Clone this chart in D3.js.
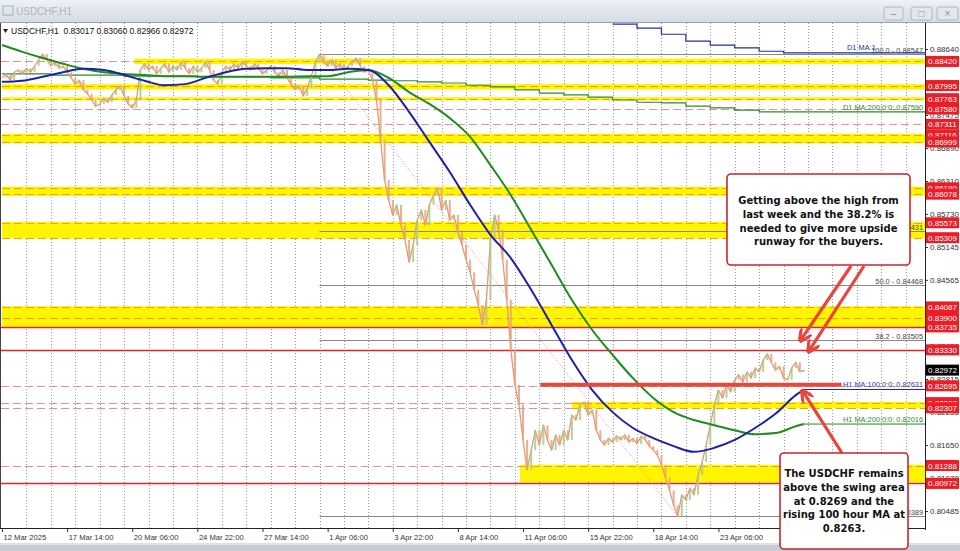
<!DOCTYPE html>
<html><head><meta charset="utf-8">
<script src="https://cdn.jsdelivr.net/npm/d3@7"></script>
<style>body{margin:0;background:#fff;overflow:hidden}svg{display:block;font-family:"Liberation Sans",Arial,sans-serif}</style>
</head><body><svg id="c" width="960" height="551"></svg>
<script>
// ---------------- data ----------------
const windowTitle = "USDCHF,H1";
const headerText = "USDCHF,H1  0.83017 0.83060 0.82966 0.82972";
const timeTickBars = [0,64,128,192,256,320,384,448,512,576,640,704];
const timeLabels = ["12 Mar 2025","17 Mar 14:00","20 Mar 06:00","24 Mar 22:00","27 Mar 14:00","1 Apr 06:00","3 Apr 22:00","8 Apr 14:00","11 Apr 06:00","15 Apr 22:00","18 Apr 14:00","23 Apr 06:00"];
const priceTicks = [0.88640,0.88060,0.87475,0.86890,0.86310,0.85730,0.85145,0.84565,0.83985,0.83400,0.82815,0.82235,0.81650,0.81070,0.80485];
const closeStep = 4; // one value every 4 hourly bars
const closes = [
0.8813,0.8820,0.8809,0.8823,0.8827,0.8820,0.8830,0.8823,0.8834,0.8845,
0.8855,0.8845,0.8834,0.8841,0.8830,0.8834,0.8823,0.8813,0.8802,0.8809,
0.8792,0.8785,0.8774,0.8763,0.8767,0.8777,0.8770,0.8783,0.8792,0.8799,
0.8781,0.8767,0.8760,0.8774,0.8827,0.8838,0.8827,0.8834,0.8820,0.8830,
0.8838,0.8823,0.8834,0.8827,0.8841,0.8830,0.8820,0.8834,0.8823,0.8830,
0.8841,0.8827,0.8809,0.8802,0.8823,0.8834,0.8827,0.8838,0.8830,0.8841,
0.8834,0.8827,0.8838,0.8830,0.8820,0.8827,0.8834,0.8823,0.8816,0.8827,
0.8813,0.8802,0.8792,0.8799,0.8781,0.8795,0.8816,0.8841,0.8855,0.8841,
0.8834,0.8845,0.8830,0.8838,0.8827,0.8834,0.8841,0.8848,0.8834,0.8823,
0.8827,0.8809,0.8774,0.8703,0.8633,0.8597,0.8571,0.8589,0.8553,0.8527,
0.8488,0.8518,0.8562,0.8580,0.8553,0.8589,0.8606,0.8619,0.8580,0.8597,
0.8562,0.8571,0.8541,0.8518,0.8492,0.8470,0.8439,0.8412,0.8377,0.8421,
0.8527,0.8571,0.8545,0.8492,0.8421,0.8333,0.8271,0.8236,0.8174,0.8121,
0.8156,0.8191,0.8165,0.8200,0.8174,0.8156,0.8183,0.8165,0.8191,0.8174,
0.8218,0.8209,0.8236,0.8241,0.8218,0.8227,0.8191,0.8174,0.8165,0.8177,
0.8170,0.8181,0.8174,0.8183,0.8170,0.8177,0.8167,0.8181,0.8174,0.8163,
0.8156,0.8147,0.8130,0.8107,0.8085,0.8059,0.8039,0.8077,0.8068,0.8089,
0.8077,0.8112,0.8135,0.8165,0.8200,0.8236,0.8262,0.8248,0.8271,0.8259,
0.8280,0.8289,0.8276,0.8294,0.8283,0.8301,0.8294,0.8315,0.8326,0.8311,
0.8297,0.8304,0.8283,0.8280,0.8301,0.8311,0.8294,0.8297];
const h1MaBars = [0,20,40,60,80,100,120,140,160,180,200,220,240,260,280,300,320,340,360,380,400,420,440,460,480,500,520,540,560,580,600,620,640,660,680,700,720,740,760,780,788];
const h1Ma100 = [0.8806,0.8808,0.8815,0.8823,0.8829,0.8827,0.8818,0.8808,0.8800,0.8802,0.8813,0.8823,0.8829,0.8830,0.8830,0.8827,0.8827,0.8829,0.8827,0.8800,0.8753,0.8700,0.8647,0.8589,0.8536,0.8495,0.8439,0.8377,0.8315,0.8262,0.8223,0.8195,0.8177,0.8163,0.8153,0.8160,0.8174,0.8195,0.8220,0.8253,0.8263];
const h1Ma200 = [0.8871,0.8859,0.8848,0.8838,0.8829,0.8823,0.8820,0.8818,0.8816,0.8816,0.8815,0.8815,0.8815,0.8815,0.8815,0.8816,0.8816,0.8823,0.8827,0.8813,0.8788,0.8767,0.8742,0.8709,0.8659,0.8606,0.8545,0.8483,0.8421,0.8368,0.8324,0.8283,0.8248,0.8223,0.8209,0.8200,0.8191,0.8184,0.8186,0.8198,0.8202];
const d1Ma200Bars = [0,24,48,72,96,120,144,168,192,216,240,264,288,312,336,360,384,408,432,456,480,504,528,552,576,600,624,648,672,696,720,744,768];
const d1Ma200 = [0.8820,0.8820,0.8818,0.8818,0.8818,0.8816,0.8816,0.8816,0.8815,0.8815,0.8815,0.8813,0.8813,0.8811,0.8811,0.8809,0.8808,0.8806,0.8804,0.8800,0.8797,0.8792,0.8786,0.8783,0.8779,0.8774,0.8770,0.8769,0.8763,0.8760,0.8756,0.8753,0.8753];
const d1Ma100Bars = [600,624,648,672,696,720,744,768];
const d1Ma100 = [0.8908,0.8901,0.8890,0.8878,0.8871,0.8866,0.8860,0.8857];
const levelPrices = [0.88420,0.87995,0.87763,0.87580,0.87311,0.87116,0.86999,0.86190,0.86078,0.85573,0.85309,0.84087,0.83900,0.83735,0.83330,0.82695,0.82398,0.82307,0.81288,0.80972];
const solidLevels = [0.83735,0.83330,0.80972];
const bandHi =   [0.88470,0.88020,0.87790,0.87145,0.86210,0.85590,0.84100,0.82410,0.81300];
const bandLo =   [0.88375,0.87925,0.87735,0.86975,0.86045,0.85300,0.83735,0.82300,0.80990];
const bandFrom = [130,0,0,0,0,0,0,560,509];
const fibLevels = ["100.0","61.8","50.0","38.2","0.0"];
const fibPrices = [0.88547,0.85431,0.84468,0.83505,0.80389];
const fibStartBar = 312, fibEndBar = 664;
const lastPrice = 0.82972;
const swingLevel = 0.82695, swingFrom = 529, swingTo = 825;
const note1 = ["Getting above the high from","last week and the 38.2% is","needed to give more upside","runway for the buyers."];
const note2 = ["The USDCHF remains","above the swing area","at 0.8269 and the","rising 100 hour MA at","0.8263."];

// ---------------- layout ----------------
const svg = d3.select("#c");
const P = {l:1, r:925, t:23, b:528};
const x = d3.scaleLinear().domain([0,907]).range([2,925]);
const y = d3.scaleLinear().domain([0.80485,0.88640]).range([511,49]);
const RIGHT = x(907);
const defs = svg.append("defs");

svg.append("rect").attr("width",960).attr("height",551).attr("fill","#fff");
defs.append("clipPath").attr("id","pc").append("rect")
  .attr("x",P.l).attr("y",P.t).attr("width",P.r-P.l).attr("height",P.b-P.t);
const g = svg.append("g").attr("clip-path","url(#pc)");

// vertical grid (every 24 bars)
g.selectAll("line.vg").data(d3.range(24,907,24)).join("line")
  .attr("x1",d=>Math.round(x(d))+0.5).attr("x2",d=>Math.round(x(d))+0.5)
  .attr("y1",P.t).attr("y2",P.b).attr("stroke","#9a9a9a").attr("stroke-dasharray","1,2");

// yellow bands
const bands = bandHi.map((h,i)=>({hi:h,lo:bandLo[i],from:bandFrom[i]}));
g.selectAll("rect.band").data(bands).join("rect")
  .attr("x",d=>x(d.from)).attr("width",d=>RIGHT-x(d.from))
  .attr("y",d=>y(d.hi)).attr("height",d=>y(d.lo)-y(d.hi)).attr("fill","#fff500");

// level lines
levelPrices.forEach(p=>{
  const yy = Math.round(y(p))+0.5;
  if (solidLevels.includes(p)) {
    g.append("line").attr("x1",P.l).attr("x2",RIGHT).attr("y1",yy).attr("y2",yy)
      .attr("stroke","#e0262b").attr("stroke-width",1.6);
    return;
  }
  const b = bands.find(b=>p<=b.hi+0.00002 && p>=b.lo-0.00002);
  const splitX = b ? x(b.from) : RIGHT;
  if (splitX > P.l+1) g.append("line").attr("x1",P.l).attr("x2",splitX).attr("y1",yy).attr("y2",yy)
      .attr("stroke","#e79090").attr("stroke-dasharray","8,4");
  if (b) g.append("line").attr("x1",splitX).attr("x2",RIGHT).attr("y1",yy).attr("y2",yy)
      .attr("stroke","#f0a020").attr("stroke-dasharray","8,4");
});

// fibonacci levels
fibPrices.forEach((p,i)=>{
  const yy = Math.round(y(p))+0.5;
  g.append("line").attr("x1",x(fibStartBar)).attr("x2",RIGHT).attr("y1",yy).attr("y2",yy)
    .attr("stroke","#8a8a8a").attr("stroke-width",1);
  g.append("text").attr("x",923).attr("y",yy-2).attr("text-anchor","end")
    .attr("font-size",7.4).attr("fill","#444").text(fibLevels[i]+" - "+p.toFixed(5));
});
g.append("line").attr("x1",x(fibStartBar)).attr("y1",y(fibPrices[0]))
  .attr("x2",x(fibEndBar)).attr("y2",y(fibPrices[4]))
  .attr("stroke","#e08a8a").attr("stroke-dasharray","1,2");

// D1 moving averages (stepped)
const stepLine = d3.line().x(d=>x(d[0])).y(d=>y(d[1])).curve(d3.curveStepAfter);
const d1a = d1Ma200Bars.map((b,i)=>[b,d1Ma200[i]]); d1a.push([907,d1Ma200[d1Ma200.length-1]]);
const d1b = d1Ma100Bars.map((b,i)=>[b,d1Ma100[i]]); d1b.push([907,d1Ma100[d1Ma100.length-1]]);
g.append("path").attr("d",stepLine(d1a)).attr("fill","none").attr("stroke","#2e8b2e").attr("stroke-width",1.2);
g.append("path").attr("d",stepLine(d1b)).attr("fill","none").attr("stroke","#2030a0").attr("stroke-width",1.2);

// price: line through closes plus small bodies from previous close (up = green, down = salmon)
const priceLine = d3.line().x((d,i)=>x(i*closeStep)).y(d=>y(d));
g.append("path").attr("d",priceLine(closes)).attr("fill","none")
  .attr("stroke","#e09a74").attr("stroke-width",1.3).attr("stroke-linejoin","round");
g.selectAll("rect.body").data(closes.slice(1)).join("rect")
  .attr("x",(d,i)=>x((i+1)*closeStep)-1)
  .attr("width",2)
  .attr("y",(d,i)=>y(Math.max(d,closes[i])))
  .attr("height",(d,i)=>Math.max(1,Math.abs(y(d)-y(closes[i]))))
  .attr("fill",(d,i)=>d>=closes[i]?"#a9c98f":"#e8a07a").attr("opacity",0.85);

// H1 moving averages
const maLine = d3.line().x(d=>x(d[0])).y(d=>y(d[1])).curve(d3.curveMonotoneX);
const m100 = h1MaBars.map((b,i)=>[b,h1Ma100[i]]);
const m200 = h1MaBars.map((b,i)=>[b,h1Ma200[i]]);
g.append("path").attr("d",maLine(m200)).attr("fill","none").attr("stroke","#1e8c1e").attr("stroke-width",2);
g.append("path").attr("d",maLine(m100)).attr("fill","none").attr("stroke","#1c22a8").attr("stroke-width",2);
const lastBar = h1MaBars[h1MaBars.length-1];
g.append("line").attr("x1",x(lastBar)).attr("x2",RIGHT).attr("y1",y(h1Ma100[h1Ma100.length-1])).attr("y2",y(h1Ma100[h1Ma100.length-1])).attr("stroke","#1c22a8");
g.append("line").attr("x1",x(lastBar)).attr("x2",RIGHT).attr("y1",y(h1Ma200[h1Ma200.length-1])).attr("y2",y(h1Ma200[h1Ma200.length-1])).attr("stroke","#1e8c1e");

// MA labels
const maLbl = (txt,xx,yy,col,anchor)=>g.append("text").attr("x",xx).attr("y",yy).attr("text-anchor",anchor)
  .attr("font-size",7.4).attr("fill",col).text(txt);
maLbl("D1 MA:1",847,y(d1Ma100[d1Ma100.length-1])-3,"#2030a0","start");
maLbl("D1 MA:200:0:0: 0.87590",923,y(d1Ma200[d1Ma200.length-1])-2,"#2e8b2e","end");
maLbl("H1 MA:100:0:0: 0.82631",923,y(h1Ma100[h1Ma100.length-1])-2,"#3a3ab0","end");
maLbl("H1 MA:200:0:0: 0.82016",923,y(h1Ma200[h1Ma200.length-1])-2,"#2e8b2e","end");

// swing line
g.append("line").attr("x1",x(swingFrom)).attr("x2",x(swingTo)).attr("y1",y(swingLevel)-1).attr("y2",y(swingLevel)-1)
  .attr("stroke","#e8483c").attr("stroke-width",4);

// ---------------- axes ----------------
const yAxis = svg.append("g").attr("transform",`translate(${P.r},0)`)
  .call(d3.axisRight(y).tickValues(priceTicks).tickFormat(d3.format(".5f")).tickSize(3).tickPadding(2));
yAxis.select(".domain").remove();
yAxis.selectAll("text").attr("font-size",8).attr("fill","#333").attr("font-family","Liberation Sans, Arial, sans-serif");
yAxis.selectAll("line").attr("stroke","#333");
svg.append("line").attr("x1",P.r+0.5).attr("x2",P.r+0.5).attr("y1",P.t).attr("y2",P.b+2).attr("stroke","#222");

const xAxis = svg.append("g").attr("transform",`translate(0,${P.b})`)
  .call(d3.axisBottom(x).tickValues(timeTickBars).tickFormat((d,i)=>timeLabels[i]).tickSize(4).tickPadding(3));
xAxis.select(".domain").remove();
xAxis.selectAll("text").attr("text-anchor","start").attr("dx",1).attr("font-size",7.6).attr("fill","#333")
  .attr("font-family","Liberation Sans, Arial, sans-serif");
xAxis.selectAll("line").attr("stroke","#333");
svg.append("line").attr("x1",0).attr("x2",P.r).attr("y1",P.b+0.5).attr("y2",P.b+0.5).attr("stroke","#222");
svg.append("line").attr("x1",0.5).attr("x2",0.5).attr("y1",P.t).attr("y2",P.b).attr("stroke","#444");

// price labels
const lab = svg.append("g");
levelPrices.forEach(p=>{
  const yy = y(p);
  lab.append("rect").attr("x",926).attr("y",yy-5.5).attr("width",33).attr("height",11).attr("fill","#ee1c25");
  lab.append("text").attr("x",942.5).attr("y",yy+3).attr("text-anchor","middle").attr("font-size",8)
    .attr("fill","#fff").text(p.toFixed(5));
});
lab.append("rect").attr("x",926).attr("y",y(lastPrice)-5.5).attr("width",33).attr("height",11).attr("fill","#000");
lab.append("text").attr("x",942.5).attr("y",y(lastPrice)+3).attr("text-anchor","middle").attr("font-size",8)
  .attr("fill","#fff").text(lastPrice.toFixed(5));

// header inside chart
svg.append("path").attr("d","M3,29 L8,29 L5.5,33 Z").attr("fill","#222");
svg.append("text").attr("x",11).attr("y",34).attr("font-size",8.5).attr("fill","#111").attr("xml:space","preserve").text(headerText);

// ---------------- annotations ----------------
defs.append("marker").attr("id","ah").attr("viewBox","0 0 10 10").attr("refX",8).attr("refY",5)
  .attr("markerWidth",4).attr("markerHeight",4).attr("orient","auto-start-reverse")
  .append("path").attr("d","M0,0 L10,5 L0,10").attr("fill","none").attr("stroke","#e8453c").attr("stroke-width",2.5);
const arrow = (x1,y1,x2,y2)=>svg.append("line").attr("x1",x1).attr("y1",y1).attr("x2",x2).attr("y2",y2)
  .attr("stroke","#e8453c").attr("stroke-width",3.2).attr("marker-end","url(#ah)");
arrow(851,266,x(785),y(fibPrices[3]));
arrow(864,266,x(793),y(0.83330)+1);
arrow(842,453,x(787),y(h1Ma100[h1Ma100.length-1])+2);

// ---------------- window chrome ----------------
const tg = defs.append("linearGradient").attr("id","tb").attr("x1",0).attr("x2",0).attr("y1",0).attr("y2",1);
tg.append("stop").attr("offset","0").attr("stop-color","#eef1f5");
tg.append("stop").attr("offset","1").attr("stop-color","#d6dce4");
svg.append("rect").attr("x",0).attr("y",0).attr("width",960).attr("height",22).attr("fill","url(#tb)");
svg.append("line").attr("x1",0).attr("x2",960).attr("y1",22.5).attr("y2",22.5).attr("stroke","#9aa3ae");
svg.append("rect").attr("x",3).attr("y",6).attr("width",10).attr("height",9).attr("fill","none").attr("stroke","#9fb0c4");
svg.append("text").attr("x",16).attr("y",15).attr("font-size",10).attr("fill","#aab3c0").text(windowTitle);
[[884,19,"–"],[911,21,"□"],[937,21,"×"]].forEach(([bx,bw,s])=>{
  svg.append("rect").attr("x",bx).attr("y",7).attr("width",bw).attr("height",13).attr("rx",2)
    .attr("fill","#e3e7ec").attr("stroke","#aeb6c1");
  svg.append("text").attr("x",bx+bw/2).attr("y",17).attr("text-anchor","middle").attr("font-size",10).attr("fill","#8791a0").text(s);
});
svg.append("rect").attr("x",0).attr("y",545).attr("width",960).attr("height",6).attr("fill","#c7ccd3");
svg.append("rect").attr("x",0).attr("y",543).attr("width",960).attr("height",2).attr("fill","#dde1e6");

function note(lines,bx,by,bw,bh,firstBase){
  svg.append("rect").attr("x",bx).attr("y",by).attr("width",bw).attr("height",bh).attr("rx",4)
    .attr("fill","#fff").attr("stroke","#c8262d").attr("stroke-width",1.6);
  lines.forEach((t,i)=>svg.append("text").attr("x",bx+bw/2).attr("y",firstBase+i*13.8)
    .attr("text-anchor","middle").attr("font-family","DejaVu Sans, Verdana, sans-serif").attr("font-weight","bold")
    .attr("font-size",10).attr("fill","#111").text(t));
}
note(note1,727,174,183,91,204);
note(note2,780,453,128,96,477);
</script></body></html>
